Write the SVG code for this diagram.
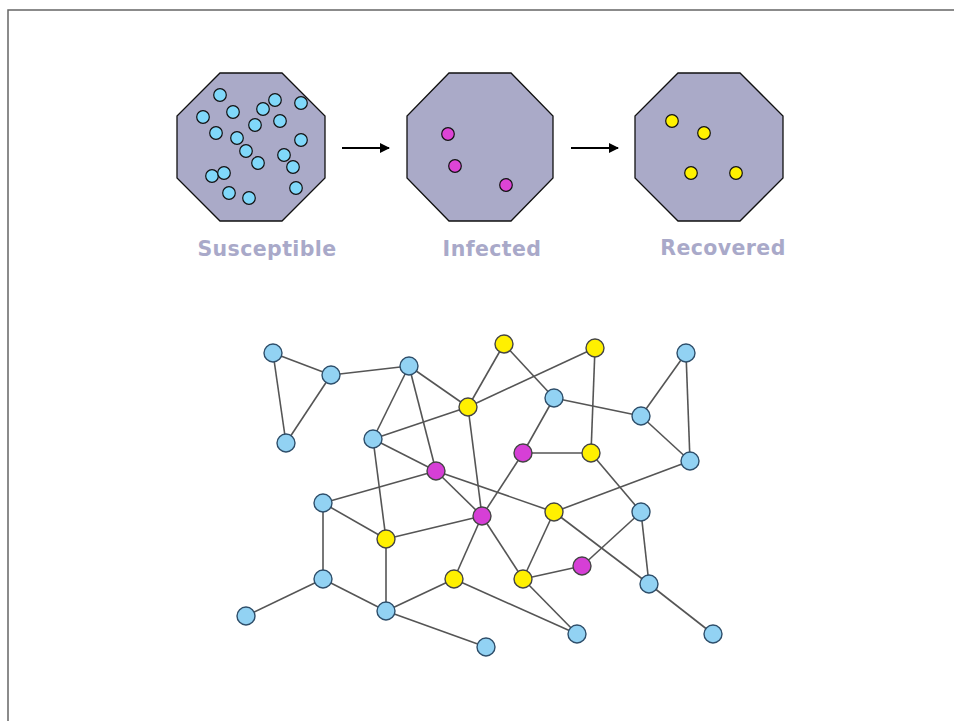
<svg xmlns="http://www.w3.org/2000/svg" width="954" height="721" viewBox="0 0 954 721">
  <style>
    .frame { stroke: #666; stroke-width: 1.5; fill: none; }
    .oct { fill: #AAAAC8; stroke: #111; stroke-width: 1.3; }
    .lbl { font-family: "DejaVu Sans", Verdana, sans-serif; font-weight: bold; font-size: 20.5px; letter-spacing: 0.4px; fill: #A9A9C9; text-anchor: middle; }
    .arrow { stroke: #000; stroke-width: 1.8; marker-end: url(#head); }
    .dot { stroke: #111; stroke-width: 1.2; }
    .s { fill: #80D8FA; }
    .i { fill: #DD44D6; }
    .r { fill: #FFF200; }
    .edges line { stroke: #555; stroke-width: 1.6; }
    .node { stroke-width: 1.4; }
    .nb { fill: #92D2F3; stroke: #2E4E6A; }
    .ny { fill: #FFF000; stroke: #444; }
    .nm { fill: #D63FD6; stroke: #444; }
  </style>
  <defs>
    <marker id="head" viewBox="0 0 10 10" refX="9" refY="5" markerWidth="11" markerHeight="10" markerUnits="userSpaceOnUse" orient="auto">
      <path d="M0,0 L10,5 L0,10 Z" fill="#000"/>
    </marker>
  </defs>

  <rect width="954" height="721" fill="#fff"/>
  <path class="frame" d="M8,721 V10 H954"/>

  <!-- compartments -->
  <g id="susceptible">
    <polygon class="oct" points="220,73 282,73 325,116 325,178 282,221 220,221 177,178 177,116"/>
    <g class="dot s">
      <circle cx="220" cy="95" r="6.3"/><circle cx="203" cy="117" r="6.3"/><circle cx="233" cy="112" r="6.3"/>
      <circle cx="263" cy="109" r="6.3"/><circle cx="275" cy="100" r="6.3"/><circle cx="301" cy="103" r="6.3"/>
      <circle cx="255" cy="125" r="6.3"/><circle cx="280" cy="121" r="6.3"/><circle cx="216" cy="133" r="6.3"/>
      <circle cx="237" cy="138" r="6.3"/><circle cx="301" cy="140" r="6.3"/><circle cx="246" cy="151" r="6.3"/>
      <circle cx="284" cy="155" r="6.3"/><circle cx="258" cy="163" r="6.3"/><circle cx="293" cy="167" r="6.3"/>
      <circle cx="212" cy="176" r="6.3"/><circle cx="224" cy="173" r="6.3"/><circle cx="296" cy="188" r="6.3"/>
      <circle cx="229" cy="193" r="6.3"/><circle cx="249" cy="198" r="6.3"/>
    </g>
    <text class="lbl" x="267" y="256">Susceptible</text>
  </g>

  <g id="infected">
    <polygon class="oct" points="449,73 511,73 553,116 553,178 511,221 449,221 407,178 407,116"/>
    <g class="dot i">
      <circle cx="448" cy="134" r="6.3"/><circle cx="455" cy="166" r="6.3"/><circle cx="506" cy="185" r="6.3"/>
    </g>
    <text class="lbl" x="492" y="256">Infected</text>
  </g>

  <g id="recovered">
    <polygon class="oct" points="678,73 740,73 783,116 783,178 740,221 678,221 635,178 635,116"/>
    <g class="dot r">
      <circle cx="672" cy="121" r="6.3"/><circle cx="704" cy="133" r="6.3"/>
      <circle cx="691" cy="173" r="6.3"/><circle cx="736" cy="173" r="6.3"/>
    </g>
    <text class="lbl" x="723" y="255">Recovered</text>
  </g>

  <g id="transitions">
    <line class="arrow" x1="342" y1="148" x2="389" y2="148"/>
    <line class="arrow" x1="571" y1="148" x2="618" y2="148"/>
  </g>

  <!-- contact network -->
  <g id="edges" class="edges">
    <line x1="273" y1="353" x2="331" y2="375"/>
    <line x1="273" y1="353" x2="286" y2="443"/>
    <line x1="331" y1="375" x2="286" y2="443"/>
    <line x1="331" y1="375" x2="409" y2="366"/>
    <line x1="409" y1="366" x2="373" y2="439"/>
    <line x1="409" y1="366" x2="468" y2="407"/>
    <line x1="409" y1="366" x2="436" y2="471"/>
    <line x1="373" y1="439" x2="468" y2="407"/>
    <line x1="373" y1="439" x2="436" y2="471"/>
    <line x1="373" y1="439" x2="386" y2="539"/>
    <line x1="436" y1="471" x2="323" y2="503"/>
    <line x1="436" y1="471" x2="482" y2="516"/>
    <line x1="436" y1="471" x2="554" y2="512"/>
    <line x1="468" y1="407" x2="504" y2="344"/>
    <line x1="468" y1="407" x2="595" y2="348"/>
    <line x1="468" y1="407" x2="482" y2="516"/>
    <line x1="504" y1="344" x2="554" y2="398"/>
    <line x1="595" y1="348" x2="591" y2="453"/>
    <line x1="554" y1="398" x2="523" y2="453"/>
    <line x1="554" y1="398" x2="641" y2="416"/>
    <line x1="641" y1="416" x2="686" y2="353"/>
    <line x1="686" y1="353" x2="690" y2="461"/>
    <line x1="641" y1="416" x2="690" y2="461"/>
    <line x1="523" y1="453" x2="591" y2="453"/>
    <line x1="523" y1="453" x2="482" y2="516"/>
    <line x1="591" y1="453" x2="641" y2="512"/>
    <line x1="690" y1="461" x2="554" y2="512"/>
    <line x1="323" y1="503" x2="386" y2="539"/>
    <line x1="323" y1="503" x2="323" y2="579"/>
    <line x1="386" y1="539" x2="482" y2="516"/>
    <line x1="386" y1="539" x2="386" y2="611"/>
    <line x1="323" y1="579" x2="246" y2="616"/>
    <line x1="323" y1="579" x2="386" y2="611"/>
    <line x1="386" y1="611" x2="454" y2="579"/>
    <line x1="386" y1="611" x2="486" y2="647"/>
    <line x1="454" y1="579" x2="482" y2="516"/>
    <line x1="454" y1="579" x2="577" y2="634"/>
    <line x1="482" y1="516" x2="523" y2="579"/>
    <line x1="554" y1="512" x2="523" y2="579"/>
    <line x1="554" y1="512" x2="649" y2="584"/>
    <line x1="523" y1="579" x2="582" y2="566"/>
    <line x1="523" y1="579" x2="577" y2="634"/>
    <line x1="582" y1="566" x2="641" y2="512"/>
    <line x1="641" y1="512" x2="649" y2="584"/>
    <line x1="649" y1="584" x2="713" y2="634"/>
  </g>

  <g id="n1"><circle class="node nb" cx="273" cy="353" r="9"/></g>
  <g id="n2"><circle class="node nb" cx="331" cy="375" r="9"/></g>
  <g id="n3"><circle class="node nb" cx="286" cy="443" r="9"/></g>
  <g id="n4"><circle class="node nb" cx="409" cy="366" r="9"/></g>
  <g id="n5"><circle class="node ny" cx="468" cy="407" r="9"/></g>
  <g id="n6"><circle class="node nb" cx="373" cy="439" r="9"/></g>
  <g id="n7"><circle class="node nm" cx="436" cy="471" r="9"/></g>
  <g id="n8"><circle class="node ny" cx="504" cy="344" r="9"/></g>
  <g id="n9"><circle class="node ny" cx="595" cy="348" r="9"/></g>
  <g id="n10"><circle class="node nb" cx="686" cy="353" r="9"/></g>
  <g id="n11"><circle class="node nb" cx="554" cy="398" r="9"/></g>
  <g id="n12"><circle class="node nb" cx="641" cy="416" r="9"/></g>
  <g id="n13"><circle class="node nm" cx="523" cy="453" r="9"/></g>
  <g id="n14"><circle class="node ny" cx="591" cy="453" r="9"/></g>
  <g id="n15"><circle class="node nb" cx="690" cy="461" r="9"/></g>
  <g id="n16"><circle class="node nb" cx="323" cy="503" r="9"/></g>
  <g id="n17"><circle class="node ny" cx="386" cy="539" r="9"/></g>
  <g id="n18"><circle class="node nm" cx="482" cy="516" r="9"/></g>
  <g id="n19"><circle class="node ny" cx="554" cy="512" r="9"/></g>
  <g id="n20"><circle class="node nb" cx="641" cy="512" r="9"/></g>
  <g id="n21"><circle class="node nb" cx="323" cy="579" r="9"/></g>
  <g id="n22"><circle class="node ny" cx="454" cy="579" r="9"/></g>
  <g id="n23"><circle class="node ny" cx="523" cy="579" r="9"/></g>
  <g id="n24"><circle class="node nm" cx="582" cy="566" r="9"/></g>
  <g id="n25"><circle class="node nb" cx="649" cy="584" r="9"/></g>
  <g id="n26"><circle class="node nb" cx="246" cy="616" r="9"/></g>
  <g id="n27"><circle class="node nb" cx="386" cy="611" r="9"/></g>
  <g id="n28"><circle class="node nb" cx="577" cy="634" r="9"/></g>
  <g id="n29"><circle class="node nb" cx="713" cy="634" r="9"/></g>
  <g id="n30"><circle class="node nb" cx="486" cy="647" r="9"/></g>
</svg>
